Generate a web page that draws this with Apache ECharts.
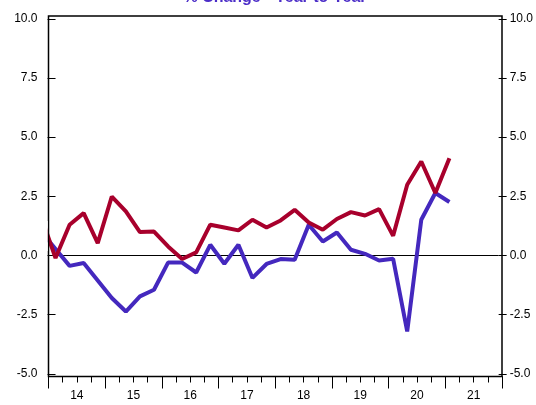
<!DOCTYPE html>
<html>
<head>
<meta charset="utf-8">
<script src="https://cdn.jsdelivr.net/npm/echarts@6/dist/echarts.min.js"></script>
<style>html,body{margin:0;padding:0;background:#fff;}#c{width:536px;height:405px;}</style>
</head>
<body>
<div id="c"></div>
<script>
// Year labels and quarter categories of the time axis
var yearLabels = ['14','15','16','17','18','19','20','21'];
var quarterCats = [];
for (var y = 2014; y <= 2021; y++) { for (var q = 1; q <= 4; q++) { quarterCats.push(y + 'Q' + q); } }
// Observation dates (first one lies just before the plotted range)
var obsDates = ['2013Q4','2014Q1','2014Q2','2014Q3','2014Q4','2015Q1','2015Q2','2015Q3','2015Q4',
  '2016Q1','2016Q2','2016Q3','2016Q4','2017Q1','2017Q2','2017Q3','2017Q4','2018Q1','2018Q2','2018Q3','2018Q4',
  '2019Q1','2019Q2','2019Q3','2019Q4','2020Q1','2020Q2','2020Q3','2020Q4','2021Q1'];
var redSeries = [1.6,-0.11,1.30,1.79,0.52,2.49,1.86,0.99,1.01,0.38,-0.15,0.13,1.30,1.18,1.06,1.51,1.18,1.48,1.93,1.39,1.09,1.54,1.83,1.69,1.96,0.83,2.99,3.97,2.64,4.11];
var blueSeries = [1.0,0.27,-0.44,-0.32,-1.06,-1.80,-2.37,-1.73,-1.45,-0.30,-0.30,-0.72,0.45,-0.35,0.45,-0.95,-0.36,-0.15,-0.18,1.30,0.59,0.97,0.24,0.07,-0.21,-0.14,-3.21,1.51,2.64,2.26];
var yTicks = [-5, -2.5, 0, 2.5, 5, 7.5, 10];

function pairs(vals) {
  return vals.map(function (v, i) { return [quarterCats.indexOf(obsDates[i]) === -1 ? -1 : quarterCats.indexOf(obsDates[i]), v]; });
}

var FONT = 'Liberation Sans, Arial, sans-serif';
var chart = echarts.init(document.getElementById('c'), null, {renderer: 'canvas'});
var yAxisCommon = {
  gridIndex: 1, type: 'value', min: yTicks[0], max: yTicks[yTicks.length - 1], interval: 2.5,
  axisLine: {show: false},
  axisTick: {show: true, length: 8, inside: false, lineStyle: {color: '#000', width: 1}},
  splitLine: {show: false},
  axisLabel: {color: '#000', fontSize: 12, fontFamily: FONT, margin: 11,
    formatter: function (v) { return v.toFixed(1); }}
};
chart.setOption({
  animation: false,
  backgroundColor: '#fff',
  title: {
    text: '% Change - Year to Year', left: 275, top: -10, textAlign: 'center', padding: 0,
    textStyle: {color: '#4B2DC8', fontSize: 16, fontWeight: 'bold', fontFamily: FONT}
  },
  grid: [
    {left: 48.5, right: 34, top: 16, bottom: 28.5, show: true, borderColor: '#000', borderWidth: 1.5, backgroundColor: 'transparent', z: 5},
    {left: 48.5, right: 34, top: 18.8, bottom: 31.2}
  ],
  // white mask hiding the stroke overhang of the clipped lines left of the frame
  graphic: [{type: 'rect', left: 38, top: 221, shape: {width: 9.7, height: 30}, style: {fill: '#fff'}, z: 100, silent: true}],
  xAxis: [
    {gridIndex: 0, type: 'category', data: yearLabels, boundaryGap: true, position: 'bottom',
      axisLine: {show: false},
      axisTick: {show: true, length: 12, alignWithLabel: false, interval: 0, lineStyle: {color: '#000', width: 1}},
      axisLabel: {color: '#000', fontSize: 12, fontFamily: FONT, margin: 13, interval: 0},
      splitLine: {show: false}},
    {gridIndex: 0, type: 'category', data: quarterCats, boundaryGap: true, position: 'bottom',
      axisLine: {show: false},
      axisTick: {show: true, length: 6, interval: 0, lineStyle: {color: '#000', width: 1}},
      axisLabel: {show: false}, splitLine: {show: false}},
    {gridIndex: 1, type: 'value', min: -0.5, max: quarterCats.length - 0.5, show: false}
  ],
  yAxis: [
    {gridIndex: 0, type: 'value', show: false},
    Object.assign({}, yAxisCommon, {position: 'left'}),
    Object.assign({}, yAxisCommon, {position: 'right'})
  ],
  series: [
    {name: 'blue', type: 'line', xAxisIndex: 2, yAxisIndex: 1, data: pairs(blueSeries), showSymbol: false,
      clip: true, lineStyle: {color: '#4428BE', width: 4}, itemStyle: {color: '#4428BE'}, z: 3,
      markLine: {silent: true, symbol: ['none', 'none'], label: {show: false},
        lineStyle: {color: '#000', width: 1, type: 'solid'}, data: [{yAxis: 0}], z: 2}},
    {name: 'red', type: 'line', xAxisIndex: 2, yAxisIndex: 1, data: pairs(redSeries), showSymbol: false,
      clip: true, lineStyle: {color: '#A8002C', width: 4}, itemStyle: {color: '#A8002C'}, z: 4}
  ]
});
</script>
</body>
</html>
